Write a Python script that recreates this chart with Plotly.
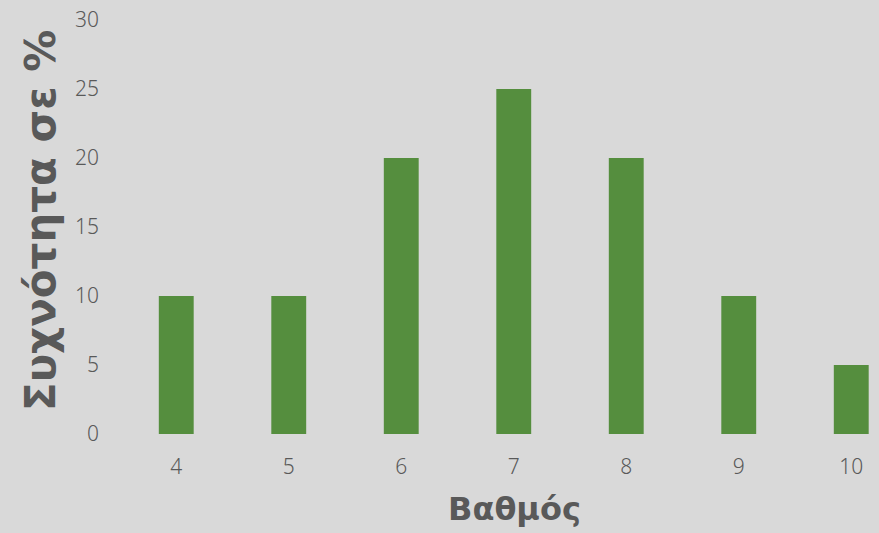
import plotly.graph_objects as go

grades = ["4", "5", "6", "7", "8", "9", "10"]
freq = [10, 10, 20, 25, 20, 10, 5]
y_ticks = [0, 5, 10, 15, 20, 25, 30]

W, H = 879, 533
ML, MR, MT, MB = 120, 0, 20, 99
pw = W - ML - MR
ph = H - MT - MB
px_per_cat = 112.5

fig = go.Figure(go.Bar(x=grades, y=freq, marker=dict(color="#558e3e", line=dict(width=0)), width=0.31))

tick_font = dict(family="Noto Sans", size=21, color="#595959", weight=300)

fig.update_layout(
    width=W, height=H,
    margin=dict(l=ML, r=MR, t=MT, b=MB),
    paper_bgcolor="#d9d9d9", plot_bgcolor="#d9d9d9",
    showlegend=False,
    font=dict(family="Noto Sans", color="#595959"),
    xaxis=dict(range=[-0.5, -0.5 + pw / px_per_cat], showgrid=False, zeroline=False, showline=False,
               ticks="", tickfont=tick_font, ticklabelstandoff=18, type="category"),
    yaxis=dict(range=[0, 30], tickvals=y_ticks, showgrid=False, zeroline=False, showline=False,
               ticks="", tickfont=tick_font, ticklabelstandoff=20),
    annotations=[
        dict(text="<b>Συχνότητα σε %</b>", xref="paper", yref="paper", x=(40 - ML) / pw, y=(MT + ph - 221) / ph,
             textangle=-90, showarrow=False, font=dict(family="DejaVu Sans", size=42, color="#595959"),
             xanchor="center", yanchor="middle"),
        dict(text="<b>Βαθμός</b>", xref="paper", yref="paper", x=(514 - ML) / pw, y=(MT + ph - 509) / ph,
             showarrow=False, font=dict(family="DejaVu Sans", size=32, color="#595959"),
             xanchor="center", yanchor="middle"),
    ],
)

fig.write_html("out.html")
